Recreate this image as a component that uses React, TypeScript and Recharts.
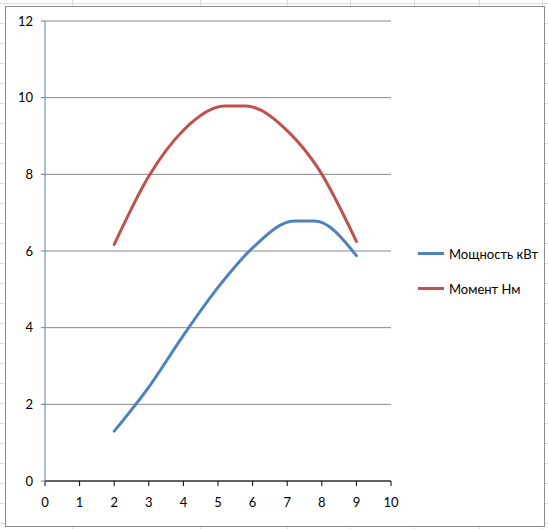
import { LineChart, Line, XAxis, YAxis, CartesianGrid } from 'recharts';

// Мощность кВт
const powerX = [2, 3, 4, 5, 6, 7.2, 7.8, 9];
const powerY = [1.3, 2.45, 3.8, 5.05, 6.08, 6.78, 6.78, 5.88];

// Момент Нм
const torqueX = [2, 3, 4, 5.2, 5.8, 7.1, 7.9, 9];
const torqueY = [6.17, 7.95, 9.15, 9.78, 9.78, 9.05, 8.15, 6.25];

const xTicks = [0, 1, 2, 3, 4, 5, 6, 7, 8, 9, 10];
const yTicks = [0, 2, 4, 6, 8, 10, 12];

const seriesNames = ['Мощность кВт', 'Момент Нм'];
const seriesColors = ['#4f81bd', '#c0504d'];

const powerData = powerX.map((x, i) => ({ x, y: powerY[i] }));
const torqueData = torqueX.map((x, i) => ({ x, y: torqueY[i] }));

const sheetCols = [72, 200, 287, 350, 414, 479, 542];

const LegendBox = () => (
  <div
    style={{
      position: 'absolute',
      left: 418,
      top: 236,
      fontFamily: 'Lato, "Open Sans", sans-serif',
      fontSize: 13,
      color: '#000',
    }}
  >
    {seriesNames.map((name, i) => (
      <div key={name} style={{ display: 'flex', alignItems: 'center', height: 35 }}>
        <div style={{ width: 26, height: 3, background: seriesColors[i], marginRight: 5 }} />
        <span>{name}</span>
      </div>
    ))}
  </div>
);

export default function App() {
  return (
    <div
      style={{
        position: 'absolute',
        left: 0,
        top: 0,
        width: 548,
        height: 529,
        background: '#fff',
        overflow: 'hidden',
        backgroundImage:
          'repeating-linear-gradient(to bottom, transparent 0px, transparent 3px, #dadcdd 3px, #dadcdd 4px, transparent 4px, transparent 20px)',
      }}
    >
      {sheetCols.map((c) => (
        <div key={c} style={{ position: 'absolute', left: c, top: 0, width: 1, height: 529, background: '#dadcdd' }} />
      ))}
      <div
        style={{
          position: 'absolute',
          left: 5,
          top: 6,
          width: 538,
          height: 519,
          background: '#fff',
          border: '1px solid #8c8c8c',
        }}
      />
      <div style={{ position: 'absolute', left: 0, top: 0 }}>
        <LineChart
          width={548}
          height={529}
          margin={{ top: 21, right: 157, left: 15, bottom: 23 }}
          style={{ fontFamily: 'Lato, "Open Sans", sans-serif' }}
        >
          <CartesianGrid vertical={false} stroke="#868686" strokeWidth={1} />
          <XAxis
            type="number"
            dataKey="x"
            domain={[0, 10]}
            ticks={xTicks}
            interval={0}
            height={25}
            stroke="#000"
            tickSize={5}
            tickMargin={12}
            tick={{ fill: '#000', fontSize: 13 }}
            allowDuplicatedCategory={false}
          />
          <YAxis
            type="number"
            dataKey="y"
            domain={[0, 12]}
            ticks={yTicks}
            interval={0}
            width={30}
            stroke="#5b7fb8"
            tickSize={4}
            tickMargin={8}
            tick={{ fill: '#000', fontSize: 13 }}
          />
          <Line
            data={powerData}
            dataKey="y"
            name={seriesNames[0]}
            type="monotone"
            stroke={seriesColors[0]}
            strokeWidth={3}
            strokeLinecap="round"
            dot={false}
            isAnimationActive={false}
          />
          <Line
            data={torqueData}
            dataKey="y"
            name={seriesNames[1]}
            type="monotone"
            stroke={seriesColors[1]}
            strokeWidth={3}
            strokeLinecap="round"
            dot={false}
            isAnimationActive={false}
          />
        </LineChart>
      </div>
      <LegendBox />
    </div>
  );
}
